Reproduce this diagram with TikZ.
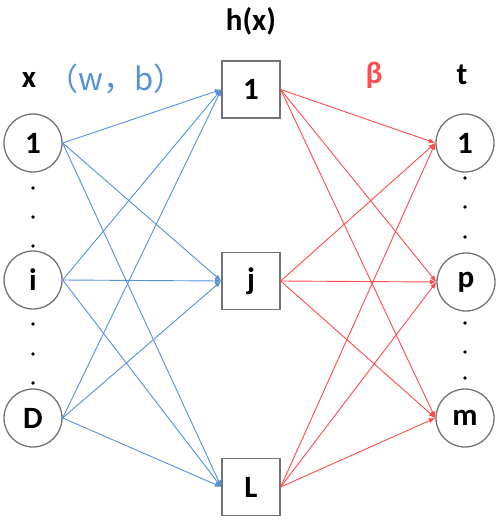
\documentclass[tikz,border=0pt]{standalone}
\usepackage{fontspec}
\setmainfont{Carlito}
\newfontfamily\cjkfont{Noto Sans CJK SC}
\usetikzlibrary{arrows.meta}
\definecolor{wblue}{RGB}{85,145,215}
\definecolor{bred}{RGB}{255,75,75}
\definecolor{framegray}{RGB}{115,115,115}

\begin{document}
\begin{tikzpicture}[x=1pt,y=-1pt,unit/.style={draw=framegray,line width=1.3pt,circle,minimum size=58pt,inner sep=0pt,font=\fontsize{31}{32}\selectfont\bfseries},hid/.style={draw=framegray,line width=1.3pt,minimum width=58pt,minimum height=57pt,inner sep=0pt,font=\fontsize{31}{32}\selectfont\bfseries},lbl/.style={font=\fontsize{31}{32}\selectfont\bfseries},dot/.style={circle,fill=black,inner sep=0pt,minimum size=3.6pt},win/.style={-{Latex[length=2.3mm,width=1.8mm]},wblue,line width=0.9pt},wout/.style={-{Latex[length=2.3mm,width=1.8mm]},bred,line width=0.9pt}]
\useasboundingbox (0,0) rectangle (498,521);
% input layer
\node[unit] (in1) at (33,143) {1};
\node[unit] (ini) at (33,280) {i};
\node[unit] (inD) at (33,418) {D};
% hidden layer
\node[hid] (h1) at (251,89.5) {1};
\node[hid] (hj) at (251,281) {j};
\node[hid] (hL) at (251,487) {L};
% output layer
\node[unit] (out1) at (465,143) {1};
\node[unit] (outp) at (466,282) {p};
\node[unit] (outm) at (465,418) {m};
% labels
\node[lbl] (xlab) at (29,80) {x};
\node[font=\cjkfont\fontsize{31}{32}\selectfont,text=wblue] (wb) at (116,79) {（w，b）};
\node[lbl] (hlab) at (251,21) {h(x)};
\node[lbl,text=bred] (beta) at (374,75) {β};
\node[lbl] (tlab) at (462,75) {t};
% dots
\foreach \y [count=\k] in {188,217,246,324,354,383} \node[dot] (ldot\k) at (33,\y) {};
\foreach \y [count=\k] in {178,207,237,323,352,378} \node[dot] (rdot\k) at (465,\y) {};
% connections
\foreach \a in {in1,ini,inD} \foreach \b in {h1,hj,hL} \draw[win] (\a.east) -- (\b.west);
\foreach \a in {h1,hj,hL} \foreach \b in {out1,outp,outm} \draw[wout] (\a.east) -- (\b.west);
\end{tikzpicture}
\end{document}
